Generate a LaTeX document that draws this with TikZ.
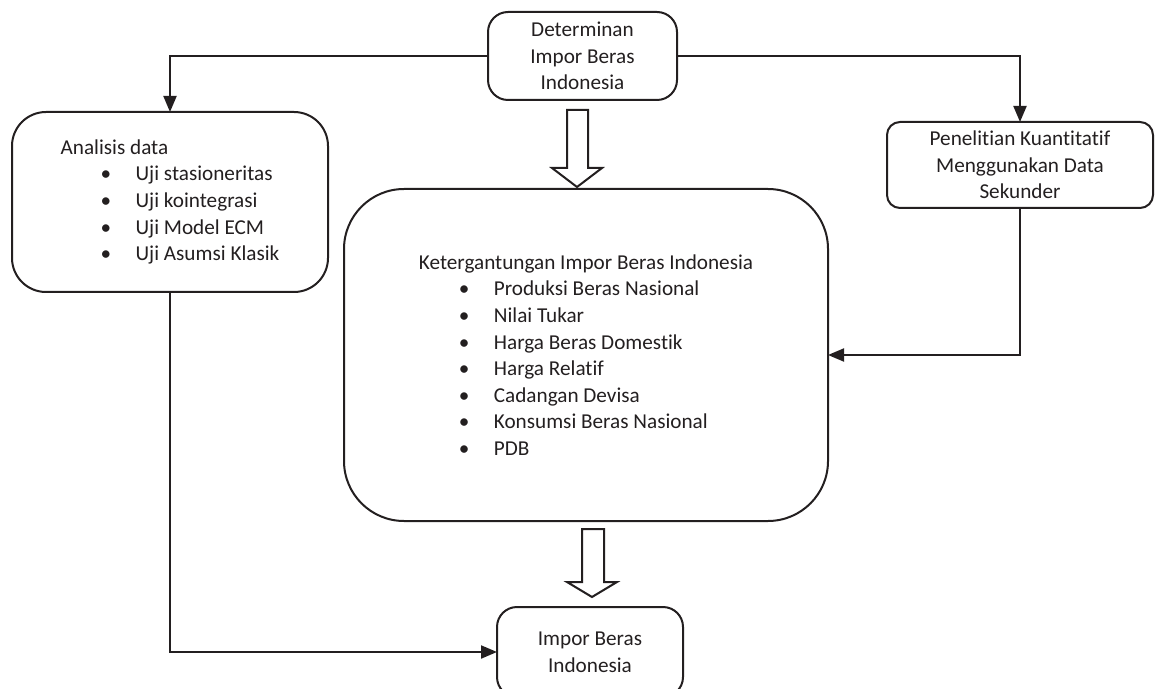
\documentclass[tikz,border=0pt]{standalone}
\usepackage{fontspec}
\setmainfont{Carlito}[Ligatures={NoCommon}]
\usetikzlibrary{arrows.meta}
\definecolor{ink}{HTML}{231F20}
\newcommand{\butir}[1]{\hspace*{20pt}\makebox[17.5pt][l]{\textbullet}#1}

\begin{document}
\begin{tikzpicture}[x=0.5pt,y=-0.5pt]
  \tikzstyle{every node}+=[inner sep=0pt,outer sep=0pt,font=\fontsize{10.6}{13.3}\selectfont,text=ink]
  \tikzstyle{box}=[draw=ink,line width=1pt]
  \tikzstyle{link}=[draw=ink,line width=1pt,-{Triangle[length=8pt,width=6.5pt]}]
  \tikzstyle{hollow}=[draw=ink,line width=1pt,line join=miter,fill=white]
  \useasboundingbox (0,0) rectangle (1155,689);
  % boxes
  \node[box,align=center,rounded corners=10pt,minimum width=94.5pt,minimum height=44pt] (determinan) at (582.5,56) {Determinan\\Impor Beras\\Indonesia};
  \node[box,align=left,rounded corners=17pt,minimum width=158pt,minimum height=90pt] (analisis) at (170,202) {Analisis data\\\butir{Uji stasioneritas}\\\butir{Uji kointegrasi}\\\butir{Uji Model ECM}\\\butir{Uji Asumsi Klasik}};
  \node[box,align=center,rounded corners=6.5pt,minimum width=133pt,minimum height=43pt] (penelitian) at (1020,165) {Penelitian Kuantitatif\\Menggunakan Data\\Sekunder};
  \node[box,align=left,rounded corners=30pt,minimum width=242pt,minimum height=166pt] (ketergantungan) at (586,355) {Ketergantungan Impor Beras Indonesia\\\butir{Produksi Beras Nasional}\\\butir{Nilai Tukar}\\\butir{Harga Beras Domestik}\\\butir{Harga Relatif}\\\butir{Cadangan Devisa}\\\butir{Konsumsi Beras Nasional}\\\butir{PDB}};
  \node[box,align=center,rounded corners=10pt,minimum width=93pt,minimum height=45pt] (impor) at (590,652) {Impor Beras\\Indonesia};
  % connectors
  \draw[link] (determinan.west) -| (analisis.north);
  \draw[link] (determinan.east) -| (penelitian.north);
  \draw[link] (penelitian.south) |- (ketergantungan.east);
  \draw[link] (analisis.south) |- (impor.west);
  % hollow arrows
  \coordinate (panahA) at (577,187);
  \coordinate (panahB) at (592,597);
  \draw[hollow] (panahA) -- ++(25,-19) -- ++(-14,0) -- ++(0,-58) -- ++(-21,0) -- ++(0,58) -- ++(-15,0) -- cycle;
  \draw[hollow] (panahB) -- ++(25,-15) -- ++(-13,0) -- ++(0,-53) -- ++(-22,0) -- ++(0,53) -- ++(-15,0) -- cycle;
\end{tikzpicture}
\end{document}
